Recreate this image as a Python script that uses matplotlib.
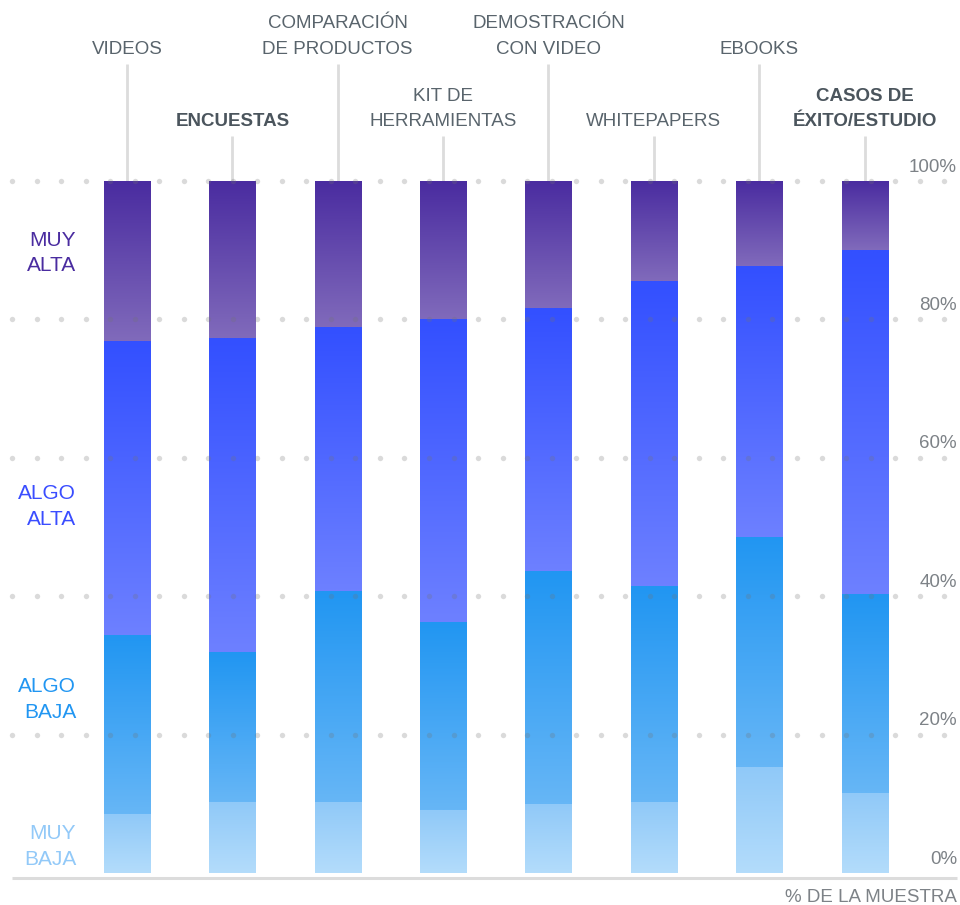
import numpy as np
import matplotlib.pyplot as plt
from matplotlib.colors import to_rgb

plt.rcParams['font.family'] = ['Liberation Sans', 'DejaVu Sans']

# Share of the sample per rating level (%), bottom to top
categories = ["VIDEOS", "ENCUESTAS", "COMPARACIÓN\nDE PRODUCTOS", "KIT DE\nHERRAMIENTAS",
              "DEMOSTRACIÓN\nCON VIDEO", "WHITEPAPERS", "EBOOKS", "CASOS DE\nÉXITO/ESTUDIO"]
muy_baja = [8.5, 10.3, 10.3, 9.1, 10.0, 10.3, 15.3, 11.6]
algo_baja = [25.9, 21.6, 30.5, 27.2, 33.6, 31.2, 33.3, 28.7]
algo_alta = [42.5, 45.4, 38.1, 43.8, 38.0, 44.0, 39.1, 49.7]
muy_alta = [23.1, 22.7, 21.1, 19.9, 18.4, 14.5, 12.3, 10.0]
level_names = ["MUY\nBAJA", "ALGO\nBAJA", "ALGO\nALTA", "MUY\nALTA"]
y_ticks = [0, 20, 40, 60, 80, 100]
highlighted = ["ENCUESTAS", "CASOS DE\nÉXITO/ESTUDIO"]

# (top colour, bottom colour) of each segment's gradient
grad = [("#90c9f8", "#b3dcfb"),
        ("#2196f2", "#66b6f6"),
        ("#3350ff", "#6d80ff"),
        ("#4a2ca0", "#806abb")]
label_colors = ["#92c9f8", "#2196f2", "#3a4dff", "#4a2ca0"]
label_y = [3.8, 25.1, 53.0, 89.6]

txt_grey = "#59646c"
tick_grey = "#7d8287"
line_grey = "#dcdcdc"
fs = 13.5

fig = plt.figure(figsize=(9.6, 9.05), dpi=100)
ax = fig.add_axes([12/960, 32/905, 948/960, 692/905])
ax.set_axis_off()

x = np.arange(len(categories))
w = 0.437
levels = [muy_baja, algo_baja, algo_alta, muy_alta]
bottom = np.zeros(len(categories))
for lev, (top_c, bot_c) in zip(levels, grad):
    c0 = np.array(to_rgb(bot_c))
    c1 = np.array(to_rgb(top_c))
    t = np.linspace(0, 1, 64)[:, None]
    img = (c0 * (1 - t) + c1 * t)[:, None, :]
    for i, v in enumerate(lev):
        ax.imshow(img, extent=(x[i] - w/2, x[i] + w/2, bottom[i], bottom[i] + v),
                  origin='lower', aspect='auto', interpolation='bilinear', zorder=2)
    bottom += np.array(lev)

xmin, xmax = -1.0915, 7.906
ax.set_xlim(xmin, xmax)
ax.set_ylim(0, 100)

# dotted gridlines, drawn over the bars
step = 24.53 / 105.36
dots_x = np.arange(xmin, xmax, step)
for yt in y_ticks[1:]:
    ax.scatter(dots_x, np.full_like(dots_x, yt), s=15, color=(0.45, 0.45, 0.45),
               alpha=0.26, linewidths=0, zorder=3, clip_on=False)
    ax.text(7.878, yt + 2.0, f"{yt}%", ha='right', va='center', fontsize=fs, color=tick_grey)
ax.text(7.878, 2.0, "0%", ha='right', va='center', fontsize=fs, color=tick_grey)

# baseline
ax.plot([xmin, 7.88], [-0.72, -0.72], color=line_grey, lw=2.2, clip_on=False,
        solid_capstyle='butt', zorder=1)
ax.text(7.878, -3.47, "% DE LA MUESTRA", ha='right', va='center', fontsize=fs, color=tick_grey)

# category labels with leader lines, alternating rows
label_row = [0, 1, 0, 1, 0, 1, 0, 1]
for i, cat in enumerate(categories):
    if label_row[i] == 0:
        ty, ly = 117.8, 116.9
    else:
        ty, ly = 107.3, 106.5
    ax.plot([x[i], x[i]], [100, ly], color=line_grey, lw=2, clip_on=False,
            solid_capstyle='butt', zorder=1)
    bold = cat in highlighted
    ax.text(x[i], ty, cat, ha='center', va='bottom', fontsize=fs, linespacing=1.68,
            color="#4b555d" if bold else txt_grey, fontweight='bold' if bold else 'normal')

# level names on the left
for name, c, yy in zip(level_names, label_colors, label_y):
    ax.text(-0.484, yy, name, ha='right', va='center', fontsize=15, linespacing=1.45,
            color=c, multialignment='right')

fig.savefig("out.png", dpi=100)
